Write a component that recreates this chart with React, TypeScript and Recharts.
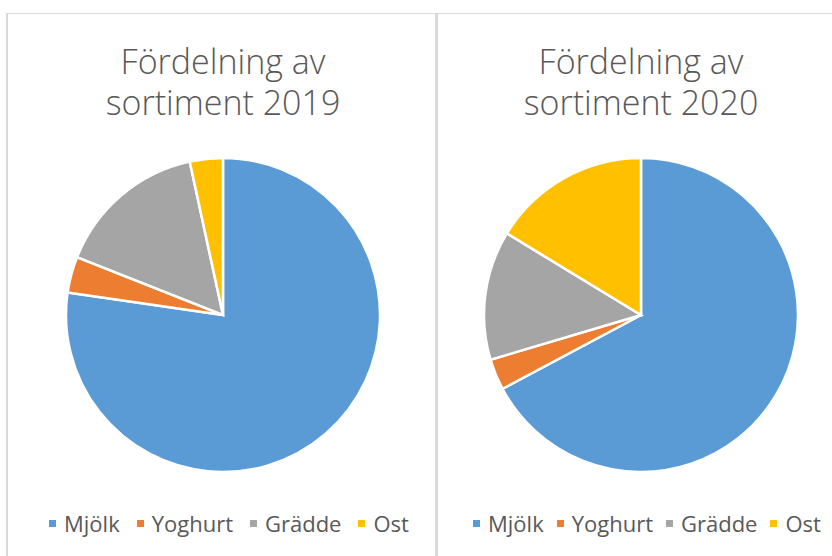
import React from "react";
import { PieChart, Pie, Cell } from "recharts";

const categories = ["Mjölk", "Yoghurt", "Grädde", "Ost"];
const values2019 = [77.3, 3.7, 15.6, 3.4];
const values2020 = [67.2, 3.2, 13.3, 16.3];
const titles = ["Fördelning av|sortiment 2019", "Fördelning av|sortiment 2020"];
const colors = ["#5B9BD5", "#ED7D31", "#A5A5A5", "#FFC000"];

const data2019 = categories.map((name, i) => ({ name, value: values2019[i] }));
const data2020 = categories.map((name, i) => ({ name, value: values2020[i] }));

const FONT = "'Open Sans', 'Noto Sans', sans-serif";
const TEXT = "#595959";

function Title({ text, cx }: { text: string; cx: number }) {
  const lines = text.split("|");
  return (
    <>
      {lines.map((l, i) => (
        <div
          key={i}
          style={{
            position: "absolute",
            left: cx - 200,
            width: 400,
            top: 44 + i * 41,
            height: 41,
            textAlign: "center",
            fontFamily: FONT,
            fontWeight: 300,
            fontSize: 34,
            lineHeight: "34px",
            color: TEXT,
          }}
        >
          {l}
        </div>
      ))}
    </>
  );
}

function Legend({ left, gap }: { left: number; gap: number }) {
  return (
    <div
      style={{
        position: "absolute",
        left,
        top: 509,
        display: "flex",
        alignItems: "center",
        fontFamily: FONT,
        fontSize: 22,
        lineHeight: "28px",
        color: TEXT,
        whiteSpace: "nowrap",
      }}
    >
      {categories.map((c, i) => (
        <div key={c} style={{ display: "flex", alignItems: "center", marginRight: gap }}>
          <div style={{ width: 7, height: 7, background: colors[i], marginRight: 8 }} />
          <span>{c}</span>
        </div>
      ))}
    </div>
  );
}

export default function App() {
  return (
    <div
      style={{
        position: "absolute",
        left: 0,
        top: 0,
        width: 832,
        height: 556,
        background: "#fff",
        overflow: "hidden",
      }}
    >
      <div style={{ position: "absolute", left: 6, top: 13, width: 826, height: 1, background: "#d9d9d9" }} />
      <div style={{ position: "absolute", left: 6, top: 13, width: 2, height: 543, background: "#d9d9d9" }} />
      <div style={{ position: "absolute", left: 435, top: 13, width: 3, height: 543, background: "#d9d9d9" }} />
      <Title text={titles[0]} cx={223} />
      <Title text={titles[1]} cx={641} />
      <div style={{ position: "absolute", left: 0, top: 0 }}>
        <PieChart width={832} height={556} margin={{ top: 0, right: 0, bottom: 0, left: 0 }}>
          <Pie
            data={data2019}
            dataKey="value"
            nameKey="name"
            cx={223}
            cy={315}
            outerRadius={157}
            startAngle={90}
            endAngle={-270}
            stroke="#fff"
            strokeWidth={2.5}
            isAnimationActive={false}
          >
            {data2019.map((d, i) => (
              <Cell key={d.name} fill={colors[i]} />
            ))}
          </Pie>
          <Pie
            data={data2020}
            dataKey="value"
            nameKey="name"
            cx={641}
            cy={315}
            outerRadius={157}
            startAngle={90}
            endAngle={-270}
            stroke="#fff"
            strokeWidth={2.5}
            isAnimationActive={false}
          >
            {data2020.map((d, i) => (
              <Cell key={d.name} fill={colors[i]} />
            ))}
          </Pie>
        </PieChart>
      </div>
      <Legend left={49} gap={17} />
      <Legend left={473} gap={13} />
    </div>
  );
}
